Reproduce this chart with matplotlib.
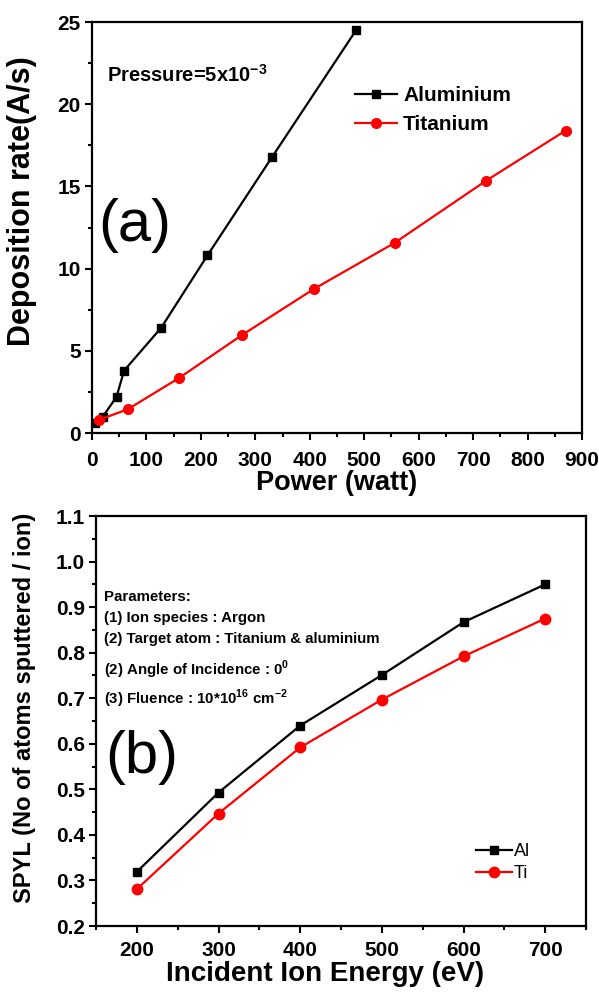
import matplotlib
matplotlib.use("Agg")
import matplotlib.pyplot as plt
from matplotlib.ticker import MultipleLocator, FormatStrFormatter

plt.rcParams["font.family"] = ["Liberation Sans", "DejaVu Sans"]
plt.rcParams["mathtext.fontset"] = "custom"
plt.rcParams["mathtext.rm"] = "Liberation Sans"
plt.rcParams["mathtext.bf"] = "Liberation Sans:bold"

# (a) deposition rate vs power
al_power = [5, 20, 45, 59, 127, 212, 331, 485]
al_rate = [0.6, 1.0, 2.2, 3.8, 6.4, 10.8, 16.8, 24.5]
ti_power = [13, 66, 160, 275, 407, 556, 724, 870]
ti_rate = [0.8, 1.45, 3.35, 5.95, 8.75, 11.57, 15.35, 18.4]

# (b) sputtering yield vs ion energy
energy = [200, 300, 400, 500, 600, 700]
al_yield = [0.319, 0.493, 0.64, 0.751, 0.867, 0.95]
ti_yield = [0.281, 0.447, 0.592, 0.697, 0.792, 0.875]

params_text = [
    "Parameters:",
    "(1) Ion species : Argon",
    "(2) Target atom : Titanium & aluminium",
    "(2) Angle of Incidence : 0$^{\\mathbf{0}}$",
    "(3) Fluence : 10*10$^{\\mathbf{16}}$ cm$^{\\mathbf{-2}}$",
]
params_y = [0.802, 0.751, 0.700, 0.624, 0.554]  # axes fraction of each line


def style_axes(ax, xpad):
    for s in ax.spines.values():
        s.set_linewidth(1.6)
    ax.tick_params(which="both", direction="out", top=False, right=False, width=1.5)
    ax.tick_params(which="major", length=5, labelsize=15)
    ax.tick_params(which="minor", length=3)
    ax.tick_params(axis="x", pad=xpad)
    ax.tick_params(axis="y", pad=3)
    for lab in ax.get_xticklabels() + ax.get_yticklabels():
        lab.set_fontweight("bold")


fig = plt.figure(figsize=(5.99, 9.92), dpi=100)

# ---- panel (a)
ax1 = fig.add_axes([0.1536, 0.5635, 0.818, 0.4143])
ax1.plot(al_power, al_rate, "-s", color="black", lw=1.6, ms=5.5, label="Aluminium")
ax1.plot(ti_power, ti_rate, "-o", color="red", lw=1.6, ms=7, label="Titanium")
ax1.set_xlim(0, 900)
ax1.set_ylim(0, 25)
ax1.xaxis.set_major_locator(MultipleLocator(100))
ax1.xaxis.set_minor_locator(MultipleLocator(50))
ax1.yaxis.set_major_locator(MultipleLocator(5))
ax1.yaxis.set_minor_locator(MultipleLocator(2.5))
style_axes(ax1, 8)
ax1.set_xlabel("Power (watt)", fontsize=19.5, fontweight="bold", labelpad=0)
ax1.set_ylabel("Deposition rate(A/s)", fontsize=22, fontweight="bold")
ax1.yaxis.set_label_coords(-0.112, 0.564)
ax1.text(0.03, 0.871, "Pressure=5x10$^{\\mathbf{-3}}$", transform=ax1.transAxes,
         fontsize=14.5, fontweight="bold", va="center")
ax1.text(0.012, 0.506, "(a)", transform=ax1.transAxes, fontsize=43, va="center")
ax1.legend(loc="upper left", bbox_to_anchor=(0.52, 0.865), frameon=False,
           prop={"size": 15, "weight": "bold"}, handlelength=2.0,
           handletextpad=0.3, labelspacing=0.5, borderaxespad=0)

# ---- panel (b)
ax2 = fig.add_axes([0.1603, 0.0665, 0.818, 0.4133])
ax2.plot(energy, al_yield, "-s", color="black", lw=1.6, ms=6, label="Al")
ax2.plot(energy, ti_yield, "-o", color="red", lw=1.6, ms=7.5, label="Ti")
ax2.set_xlim(150, 750)
ax2.set_ylim(0.2, 1.1)
ax2.xaxis.set_major_locator(MultipleLocator(100))
ax2.xaxis.set_minor_locator(MultipleLocator(50))
ax2.yaxis.set_major_locator(MultipleLocator(0.1))
ax2.yaxis.set_minor_locator(MultipleLocator(0.05))
ax2.yaxis.set_major_formatter(FormatStrFormatter("%.1f"))
style_axes(ax2, 5.5)
ax2.set_xlabel("Incident Ion Energy (eV)", fontsize=20, fontweight="bold", labelpad=0)
ax2.xaxis.set_label_coords(0.467, -0.085)
ax2.set_ylabel("SPYL (No of atoms sputtered / ion)", fontsize=17, fontweight="bold")
ax2.yaxis.set_label_coords(-0.122, 0.532)
for line, yy in zip(params_text, params_y):
    ax2.text(0.016, yy, line, transform=ax2.transAxes, fontsize=10.8,
             fontweight="bold", va="center")
ax2.text(0.018, 0.412, "(b)", transform=ax2.transAxes, fontsize=43, va="center")
ax2.legend(loc="upper left", bbox_to_anchor=(0.76, 0.22), frameon=False,
           prop={"size": 13}, handlelength=2.0, handletextpad=0.1,
           labelspacing=0.3, borderaxespad=0)

fig.savefig("out.png", dpi=100)
